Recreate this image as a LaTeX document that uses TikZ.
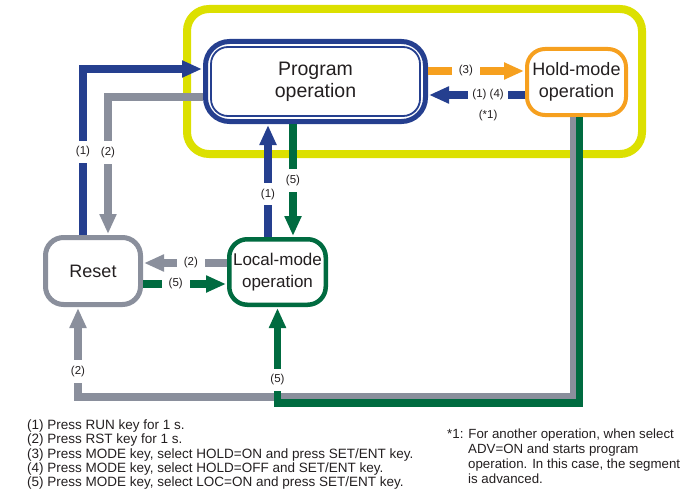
\documentclass[tikz,border=0pt]{standalone}
\usepackage{fontspec}
\setmainfont{Liberation Sans}
\usetikzlibrary{arrows.meta,positioning}
\definecolor{runblue}{HTML}{253F8F}
\definecolor{rstgray}{HTML}{8A8F9C}
\definecolor{locgreen}{HTML}{006B40}
\definecolor{holdorange}{HTML}{F6A01F}
\definecolor{frameyellow}{HTML}{DCE000}
\definecolor{txtdark}{HTML}{231F20}

\begin{document}
\begin{tikzpicture}[x=1pt,y=-1pt,>={Triangle[length=20pt,width=16pt]},
  modebox/.style={draw,rounded corners=18pt,fill=white,align=center,text=txtdark,
    font=\fontsize{18}{22}\selectfont,inner sep=0pt},
  link/.style={line width=7.5pt,->,shorten >=1pt},
  lbl/.style={fill=white,text=txtdark,font=\fontsize{11.5}{13}\selectfont,inner xsep=7pt,inner ysep=6pt}]
\useasboundingbox (0,0) rectangle (684,495);
% frame round the run modes
\draw[frameyellow,line width=8pt,rounded corners=22pt] (187,9) rectangle (642,154);
% modes
\node[modebox,draw=runblue,line width=5pt,rounded corners=24pt,minimum width=220pt,minimum height=80pt,
  font=\fontsize{19.5}{22}\selectfont] (prog) at (315.5,81.5) {Program\\operation};
\draw[runblue,line width=1.8pt,rounded corners=17pt] ([shift={(8,8)}]prog.north west) rectangle ([shift={(-8,-8)}]prog.south east);
\node[modebox,draw=holdorange,line width=4pt,minimum width=99pt,minimum height=66pt] (hold) at (576.5,82) {Hold-mode\\operation};
\node[modebox,draw=rstgray,line width=5pt,minimum width=95pt,minimum height=67pt] (reset) at (93,271) {Reset};
\node[modebox,draw=locgreen,line width=4.5pt,minimum width=96.5pt,minimum height=65.5pt,
  font=\fontsize{17}{22}\selectfont] (local) at (277.5,272) {Local-mode\\operation};
% reset <-> program
\draw[link,runblue] ([xshift=-10pt]reset.north) |- node[lbl,pos=0.25] (l1a) {(1)} ([yshift=12.5pt]prog.west);
\draw[link,rstgray] ([yshift=-15.5pt]prog.west) -| node[lbl,pos=0.7] (l2a) {(2)} ([xshift=15pt]reset.north);
% local <-> program
\draw[link,runblue] ([xshift=-9.5pt]local.north) -- node[lbl,pos=0.38] (l1b) {(1)} ([xshift=-47.5pt]prog.south);
\draw[link,locgreen] ([xshift=-22.5pt]prog.south) -- node[lbl,pos=0.5] (l5a) {(5)} ([xshift=15.5pt]local.north);
% local <-> reset
\draw[link,rstgray] ([yshift=9pt]local.west) -- node[lbl,pos=0.43] (l2b) {(2)} ([yshift=8pt]reset.east);
\draw[link,locgreen] ([yshift=-13pt]reset.east) -- node[lbl,pos=0.39] (l5b) {(5)} ([yshift=-12pt]local.west);
% program <-> hold
\draw[link,holdorange] ([yshift=10.5pt]prog.east) -- node[lbl,pos=0.39] (l3) {(3)} ([yshift=11pt]hold.west);
\draw[link,runblue] ([yshift=-13pt]hold.west) -- node[lbl,pos=0.38,inner xsep=4pt] (l14) {(1) (4)} ([yshift=-13.5pt]prog.east);
\node[lbl,fill=none,below=-6pt of l14] (star1) {(*1)};
% hold -> reset, hold -> local
\draw[link,rstgray] ([xshift=-2.5pt]hold.south) -- ++(0,280) -| node[lbl,pos=0.64] (l2c) {(2)} ([xshift=-15pt]reset.south);
\draw[link,locgreen] ([xshift=3pt]hold.south) -- ++(0,286) -| node[lbl,pos=0.62] (l5c) {(5)} (local.south);
% key list
\node[anchor=north west,align=left,text=txtdark,inner sep=0pt,font=\fontsize{13.5}{14.3}\selectfont] (keys) at (27,419.5)
  {(1) Press RUN key for 1 s.\\
   (2) Press RST key for 1 s.\\
   (3) Press MODE key, select HOLD=ON and press SET/ENT key.\\
   (4) Press MODE key, select HOLD=OFF and SET/ENT key.\\
   (5) Press MODE key, select LOC=ON and press SET/ENT key.};
\node[anchor=north west,align=left,text=txtdark,inner sep=0pt,font=\fontsize{13.3}{15}\selectfont] (note) at (447,428.5)
  {*1: For another operation, when select\\
   \hspace*{21pt}ADV=ON and starts program\\
   \hspace*{21pt}operation. In this case, the segment\\
   \hspace*{21pt}is advanced.};
\end{tikzpicture}
\end{document}
